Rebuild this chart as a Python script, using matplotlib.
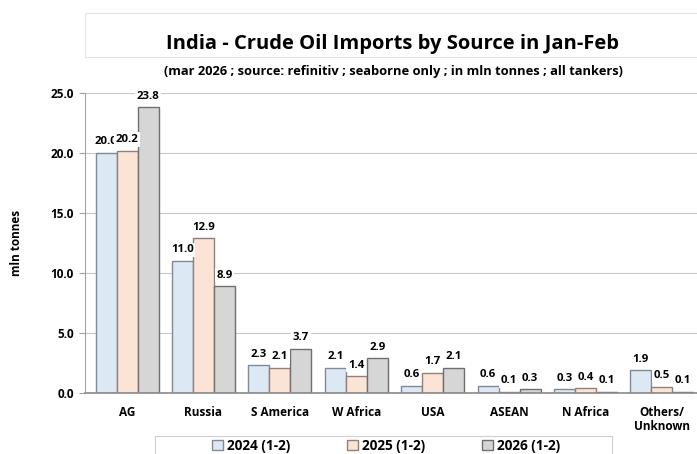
import numpy as np
import matplotlib
matplotlib.use("Agg")
import matplotlib.pyplot as plt
from matplotlib.patches import Rectangle

plt.rcParams['font.family'] = ['Open Sans', 'DejaVu Sans']
plt.rcParams['font.weight'] = 'bold'

categories = ['AG', 'Russia', 'S America', 'W Africa', 'USA', 'ASEAN', 'N Africa', 'Others/\nUnknown']
series_names = ['2024 (1-2)', '2025 (1-2)', '2026 (1-2)']
vals_2024 = [20.0, 11.0, 2.3, 2.1, 0.6, 0.6, 0.3, 1.9]
vals_2025 = [20.2, 12.9, 2.1, 1.4, 1.7, 0.1, 0.4, 0.5]
vals_2026 = [23.8, 8.9, 3.7, 2.9, 2.1, 0.3, 0.1, 0.1]

colors = ['#dde8f5', '#fbe4d6', '#d6d6d6']
edges = ['#7f8a96', '#8f8079', '#6f6f6f']

fig = plt.figure(figsize=(6.97, 4.54), dpi=100)
ax = fig.add_axes([85 / 697, 1 - 393 / 454, 1 - 85 / 697, 300 / 454])

# faint box around the title
fig.patches.append(Rectangle((85 / 697, 1 - 57 / 454), 1, 44 / 454, transform=fig.transFigure,
                             facecolor='none', edgecolor='#e4e4e4', linewidth=0.8))
fig.text(392 / 697, 1 - 44 / 454, 'India - Crude Oil Imports by Source in Jan-Feb',
         ha='center', va='center', fontsize=14.5, fontweight='bold')
fig.text(393 / 697, 1 - 72 / 454,
         '(mar 2026 ; source: refinitiv ; seaborne only ; in mln tonnes ; all tankers)',
         ha='center', va='center', fontsize=9.3, fontweight='bold')

x = np.arange(len(categories))
width = 0.275
all_vals = [vals_2024, vals_2025, vals_2026]
for i, vals in enumerate(all_vals):
    pos = x + (i - 1) * width
    ax.bar(pos, vals, width, color=colors[i], edgecolor=edges[i], linewidth=1.0,
           label=series_names[i], zorder=2)
    for px, v in zip(pos, vals):
        ax.annotate(f'{v:.1f}', (px, v), xytext=(0, 4), textcoords='offset points',
                    ha='center', va='bottom', fontsize=8.2, fontweight='bold', zorder=3,
                    bbox=dict(boxstyle='square,pad=0.15', facecolor='white', edgecolor='none'))

ax.set_xlim(-0.55, 7.46)
ax.set_ylim(0, 25)
ax.set_yticks(np.arange(0, 26, 5))
ax.set_yticklabels([f'{t:.1f}' for t in np.arange(0, 26, 5)], fontsize=8.5, fontweight='bold')
ax.set_xticks(x)
ax.set_xticklabels(categories, fontsize=8.5, fontweight='bold', linespacing=1.1)
ax.tick_params(axis='x', length=0, pad=9)
ax.tick_params(axis='y', length=4, color='#a0a0a0', pad=4)
ax.grid(axis='y', color='#c8c8c8', linewidth=0.8, zorder=0)
ax.set_axisbelow(True)
for s in ['top', 'right']:
    ax.spines[s].set_visible(False)
ax.spines['left'].set_color('#a0a0a0')
ax.spines['bottom'].set_color('#8a8a8a')
ax.spines['bottom'].set_linewidth(1.2)
ax.set_ylabel('mln tonnes', fontsize=8.5, fontweight='bold', labelpad=20)

# legend box runs off the bottom edge like the original
fig.patches.append(Rectangle((155 / 697, -0.05), 457 / 697, 0.05 + 18 / 454,
                             transform=fig.transFigure, facecolor='white',
                             edgecolor='#d0d0d0', linewidth=0.8, zorder=0))
leg = fig.legend(loc='center', bbox_to_anchor=(386 / 697, 1 - 446 / 454), ncol=3,
                 fontsize=9.8, frameon=False, handlelength=0.8, handleheight=0.8,
                 handletextpad=0.3, columnspacing=4.2, borderpad=0.2)

fig.savefig('out.png', dpi=100)
